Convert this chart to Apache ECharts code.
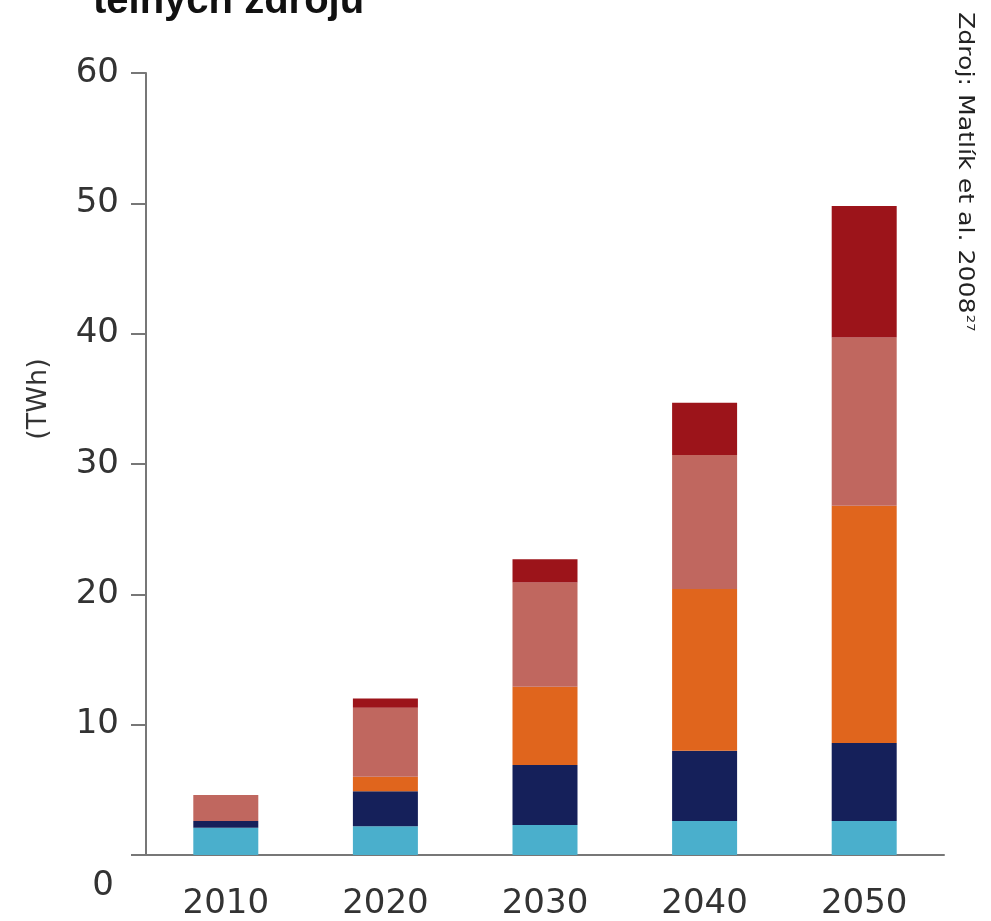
<!DOCTYPE html>
<html>
<head>
<meta charset="utf-8">
<script src="https://cdn.jsdelivr.net/npm/echarts@6/dist/echarts.min.js"></script>
<style>html,body{margin:0;padding:0;background:#fff}#c{width:991px;height:921px}</style>
</head>
<body>
<div id="c"></div>
<script>
const categories = ['2010', '2020', '2030', '2040', '2050'];
const yTicks = [0, 10, 20, 30, 40, 50, 60];
const seriesNames = ['Řada 1', 'Řada 2', 'Řada 3', 'Řada 4', 'Řada 5'];
const s1 = [2.1, 2.2, 2.3, 2.6, 2.6];
const s2 = [0.5, 2.7, 4.6, 5.4, 6.0];
const s3 = [0.0, 1.1, 6.0, 12.4, 18.2];
const s4 = [2.0, 5.3, 8.0, 10.3, 12.9];
const s5 = [0.0, 0.7, 1.8, 4.0, 10.1];
const colors = ['#4aafcc', '#15205a', '#e0651d', '#c0675f', '#9c141a'];
const titleText = 'telných zdrojů';
const sourceText = 'Zdroj: Matlík et al. 2008';
const sourceSup = '27';
const unitText = '(TWh)';

const chart = echarts.init(document.getElementById('c'));
const font = '"DejaVu Sans", Verdana, sans-serif';
const arial = '"Liberation Sans", Arial, sans-serif';
const allSeries = [s1, s2, s3, s4, s5].map((d, i) => ({
  name: seriesNames[i],
  type: 'bar',
  stack: 'total',
  data: d,
  barWidth: 65,
  itemStyle: { color: colors[i] },
  silent: true
}));

chart.setOption({
  animation: false,
  backgroundColor: '#fff',
  grid: { left: 146, right: 47, top: 73, bottom: 65 },
  xAxis: {
    type: 'category',
    data: categories,
    axisLine: { lineStyle: { color: '#777', width: 2 } },
    axisTick: { show: false },
    axisLabel: { margin: 32, fontSize: 34, color: '#333', fontFamily: font }
  },
  yAxis: {
    type: 'value',
    min: yTicks[0],
    max: yTicks[yTicks.length - 1],
    interval: yTicks[1] - yTicks[0],
    splitLine: { show: false },
    axisLine: { show: true, lineStyle: { color: '#777', width: 2 } },
    axisTick: { show: true, length: 15, lineStyle: { color: '#777', width: 2 } },
    axisLabel: {
      margin: 27, fontSize: 34, color: '#333', fontFamily: font,
      formatter: (v) => v === 0 ? '{z|0}' : String(v),
      rich: { z: { fontSize: 34, color: '#333', fontFamily: font, padding: [62, 5, 0, 0] } }
    }
  },
  graphic: [
    { type: 'text', x: 93, y: 22, silent: true,
      style: { text: titleText, font: 'bold 40px ' + arial, fill: '#111', textAlign: 'left', textVerticalAlign: 'bottom' } },
    { type: 'text', x: 39, y: 399, rotation: Math.PI / 2, silent: true,
      style: { text: unitText, font: '27px ' + font, fill: '#333', textAlign: 'center', textVerticalAlign: 'middle' } },
    { type: 'text', x: 964, y: 12, rotation: -Math.PI / 2, scaleX: 1.2, silent: true,
      style: {
        text: '{m|' + sourceText + '}{s|' + sourceSup + '}',
        textAlign: 'left', textVerticalAlign: 'middle',
        rich: {
          m: { font: '21px ' + font, fill: '#222' },
          s: { font: '11px ' + font, fill: '#222', padding: [0, 0, 12, 1] }
        }
      } }
  ],
  series: allSeries
});
</script>
</body>
</html>
